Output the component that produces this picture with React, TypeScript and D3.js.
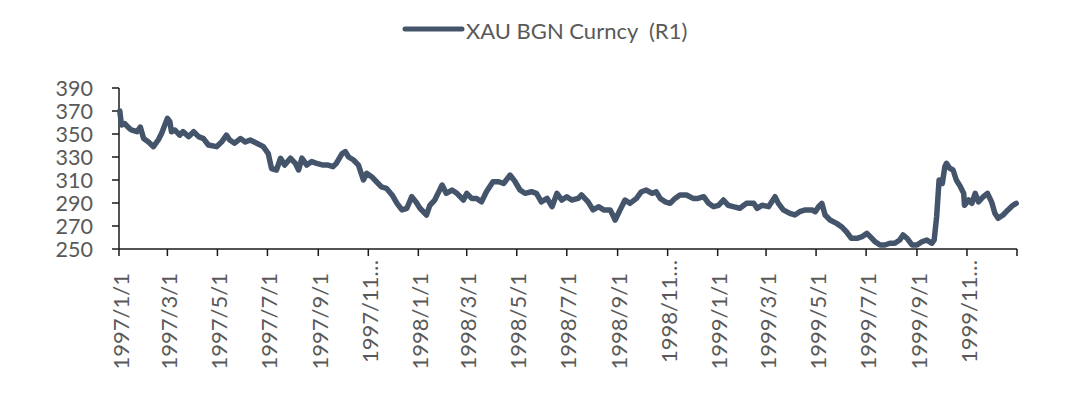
import React from 'react';
import * as d3 from 'd3';

const seriesName = 'XAU BGN Curncy  (R1)';

const dates = [
  '1997-01-02','1997-01-04','1997-01-08','1997-01-12','1997-01-16','1997-01-23','1997-01-27','1997-01-31',
  '1997-02-06','1997-02-12','1997-02-18','1997-02-22','1997-02-26','1997-03-01','1997-03-04','1997-03-06',
  '1997-03-10','1997-03-16','1997-03-20','1997-03-27','1997-04-02','1997-04-08','1997-04-14','1997-04-20',
  '1997-04-30','1997-05-06','1997-05-12','1997-05-16','1997-05-22','1997-05-29','1997-06-04','1997-06-10',
  '1997-06-18','1997-06-26','1997-07-02','1997-07-06','1997-07-12','1997-07-17','1997-07-22','1997-07-29',
  '1997-08-04','1997-08-08','1997-08-12','1997-08-18','1997-08-24','1997-08-30','1997-09-07','1997-09-13',
  '1997-09-19','1997-09-23','1997-09-30','1997-10-04','1997-10-08','1997-10-14','1997-10-20','1997-10-26',
  '1997-10-30','1997-11-05','1997-11-11','1997-11-17','1997-11-23','1997-11-30','1997-12-06','1997-12-12',
  '1997-12-18','1997-12-24','1997-12-29','1998-01-03','1998-01-11','1998-01-15','1998-01-21','1998-01-25',
  '1998-01-30','1998-02-04','1998-02-11','1998-02-17','1998-02-25','1998-03-01','1998-03-07','1998-03-13',
  '1998-03-19','1998-03-25','1998-04-02','1998-04-09','1998-04-15','1998-04-23','1998-04-29','1998-05-05',
  '1998-05-11','1998-05-19','1998-05-25','1998-05-31','1998-06-07','1998-06-13','1998-06-19','1998-06-25',
  '1998-07-01','1998-07-07','1998-07-15','1998-07-19','1998-07-27','1998-08-02','1998-08-09','1998-08-15',
  '1998-08-23','1998-08-29','1998-09-04','1998-09-10','1998-09-16','1998-09-24','1998-09-30','1998-10-06',
  '1998-10-13','1998-10-18','1998-10-23','1998-10-29','1998-11-04','1998-11-10','1998-11-16','1998-11-24',
  '1998-12-02','1998-12-08','1998-12-15','1998-12-21','1998-12-27','1999-01-02','1999-01-08','1999-01-14',
  '1999-01-20','1999-01-28','1999-02-05','1999-02-14','1999-02-18','1999-02-24','1999-03-04','1999-03-12',
  '1999-03-16','1999-03-22','1999-03-30','1999-04-05','1999-04-11','1999-04-18','1999-04-26','1999-04-30',
  '1999-05-04','1999-05-08','1999-05-12','1999-05-18','1999-05-26','1999-06-01','1999-06-07','1999-06-13',
  '1999-06-20','1999-06-26','1999-07-02','1999-07-06','1999-07-12','1999-07-18','1999-07-24','1999-07-30',
  '1999-08-05','1999-08-11','1999-08-15','1999-08-20','1999-08-26','1999-09-01','1999-09-07','1999-09-13',
  '1999-09-19','1999-09-22','1999-09-25','1999-09-28','1999-10-02','1999-10-05','1999-10-07','1999-10-11',
  '1999-10-15','1999-10-19','1999-10-24','1999-10-28','1999-10-29','1999-11-03','1999-11-07','1999-11-11',
  '1999-11-15','1999-11-21','1999-11-26','1999-12-01','1999-12-05','1999-12-09','1999-12-15','1999-12-21',
  '1999-12-27','1999-12-31'
];

const prices = [
  370, 357.8, 359, 356, 353.5, 352, 356, 346,
  343, 339, 345, 350.6, 358, 363.6, 360.7, 352,
  353.5, 349, 352, 347.7, 352, 347.7, 346, 340.4,
  339, 343, 349, 344.8, 342, 346, 343, 344.8,
  342, 339, 333, 320, 318.7, 328.9, 323, 329,
  324.5, 318.7, 329, 323, 326, 324.5, 323, 323,
  321.6, 324.5, 333, 334.6, 330, 327.4, 323, 310,
  315.8, 312.9, 308.5, 304, 302.8, 297, 289.7, 284,
  285.4, 295.5, 291, 285.4, 279.6, 288, 292.6, 298.4,
  305.6, 298.4, 301.3, 298.4, 292.6, 298.4, 294, 294,
  291, 299.8, 308.5, 308.5, 307, 314.3, 308.5, 301.3,
  298.4, 299.8, 298.4, 291, 294, 286.8, 298.4, 292.6,
  295.5, 292.6, 294, 297, 291, 284, 286.8, 284,
  284, 275.2, 284, 292.6, 289.7, 294, 299.8, 301.3,
  298.4, 299.8, 294, 291, 289.7, 294, 297, 297,
  294, 294, 295.5, 289.7, 286.8, 288, 292.6, 288,
  286.8, 285.4, 289.7, 289.7, 285.4, 288, 286.8, 295.5,
  289.7, 284, 281, 279.6, 282.4, 284, 284, 282.4,
  286.8, 289.7, 279.6, 275.2, 272.3, 269.4, 265, 259.3,
  259.3, 260.7, 263.6, 260.7, 256.3, 253.5, 253.5, 255,
  255, 257.8, 262.2, 259.3, 253.5, 253.5, 256.3, 257.8,
  255, 257.8, 278, 310, 307, 321.6, 324.5, 320.2,
  318.7, 310, 304.2, 298.4, 288, 292.6, 289.7, 298.4,
  291, 295.5, 298.4, 291, 281, 276.7, 279.6, 284,
  288, 289.7
];

const yTickValues = [250, 270, 290, 310, 330, 350, 370, 390];

const xTickLabels = [
  '1997/1/1', '1997/3/1', '1997/5/1', '1997/7/1', '1997/9/1', '1997/11…',
  '1998/1/1', '1998/3/1', '1998/5/1', '1998/7/1', '1998/9/1', '1998/11…',
  '1999/1/1', '1999/3/1', '1999/5/1', '1999/7/1', '1999/9/1', '1999/11…'
];

const parse = d3.utcParse('%Y-%m-%d');

export default function App() {
  const left = 119, right = 1017, top = 88, bottom = 249;
  const x = d3.scaleUtc()
    .domain([parse('1997-01-01') as Date, parse('2000-01-01') as Date])
    .range([left, right]);
  const y = d3.scaleLinear().domain([250, 390]).range([bottom, top]);

  const pts = dates.map((d, i) => ({ d: parse(d) as Date, v: prices[i] }));
  const line = d3.line<{ d: Date; v: number }>()
    .x(p => x(p.d))
    .y(p => y(p.v))
    .curve(d3.curveLinear);

  const xTicks = d3.utcMonth.every(2)!.range(parse('1997-01-01') as Date, parse('2000-01-02') as Date);

  const font = 'Lato, "Open Sans", sans-serif';
  const axisColor = '#1a1a1a';
  const textColor = '#595959';
  const lineColor = '#44546A';

  return (
    <svg width={1080} height={394} style={{ position: 'absolute', left: 0, top: 0, background: '#fff' }}>
      <rect x={0} y={0} width={1080} height={394} fill="#ffffff" />
      {/* legend */}
      <line x1={405} x2={462} y1={29} y2={29} stroke={lineColor} strokeWidth={5} strokeLinecap="round" />
      <text x={466} y={39} fontFamily={font} fontSize={22} fill={textColor} style={{ whiteSpace: 'pre' }}>
        {seriesName}
      </text>

      {/* y axis */}
      <line x1={left} x2={left} y1={top} y2={bottom} stroke={axisColor} strokeWidth={1.5} />
      {yTickValues.map(v => (
        <g key={v}>
          <line x1={left - 7} x2={left} y1={y(v)} y2={y(v)} stroke={axisColor} strokeWidth={1.5} />
          <text x={93} y={y(v)} dy="0.35em" textAnchor="end" fontFamily={font} fontSize={21.5} fill={textColor}>
            {v}
          </text>
        </g>
      ))}

      {/* x axis */}
      <line x1={left} x2={right} y1={bottom} y2={bottom} stroke={axisColor} strokeWidth={1.5} />
      {xTicks.map((t, i) => (
        <g key={i}>
          <line x1={x(t)} x2={x(t)} y1={bottom} y2={bottom + 7} stroke={axisColor} strokeWidth={1.5} />
          {i < xTickLabels.length && (
            <text
              transform={`translate(${x(t) + 2},${xTickLabels[i].endsWith('…') ? 260 : 273}) rotate(-90)`}
              dy="0.35em"
              textAnchor="end"
              fontFamily={font}
              fontSize={22}
              fill={textColor}
            >
              {xTickLabels[i]}
            </text>
          )}
        </g>
      ))}

      {/* series */}
      <path d={line(pts) || ''} fill="none" stroke={lineColor} strokeWidth={5.5} strokeLinejoin="round" strokeLinecap="round" />
    </svg>
  );
}
